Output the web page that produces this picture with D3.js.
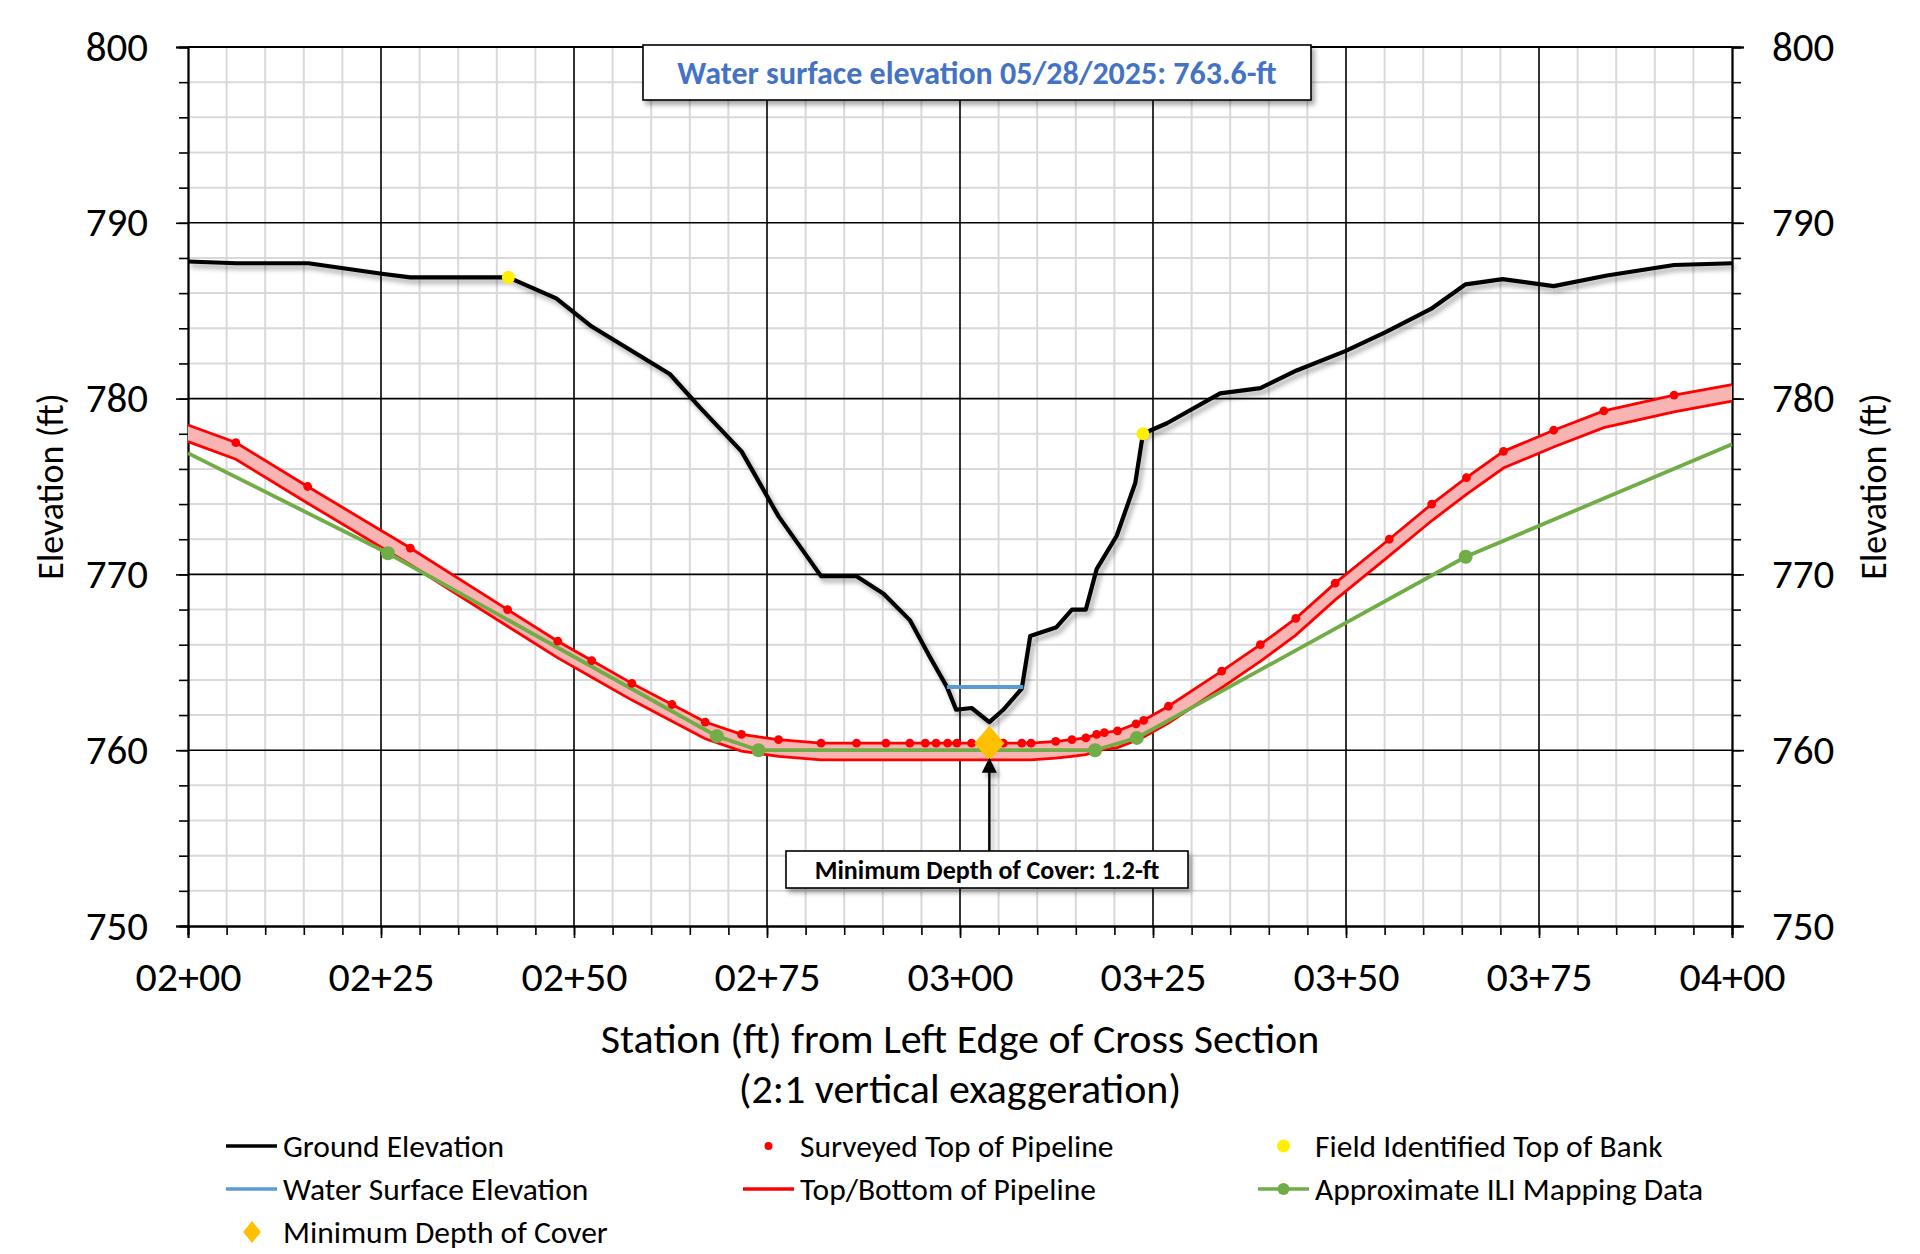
<!doctype html>
<html lang="en">
<head>
<meta charset="UTF-8">
<title>Pipeline Cross Section</title>
<script src="https://d3js.org/d3.v7.min.js"></script>
<style>
    body { margin: 0; background: #fff; }
    svg { display: block; font-family: Carlito, Lato, "Open Sans", sans-serif; }
</style>
</head>
<body>
<div id="chart"></div>
<script>

    //ground survey (station ft, elevation ft)
    const groundStation = [200, 206.3, 215.6, 225.1, 228.8, 241.5, 247.7, 252.3, 262.4, 266.3, 271.7, 276.5,
        282.0, 286.6, 290.1, 293.5, 296.1, 298.3, 299.5, 301.5, 303.8, 305.6, 308.0, 309.1, 312.5, 314.5,
        316.3, 317.7, 320.3, 322.7, 323.7, 326.8, 333.7, 338.9, 343.6, 349.9, 355.2, 361.0, 365.5, 370.3,
        376.9, 383.8, 392.5, 400];
    const groundElev = [787.8, 787.7, 787.7, 787.1, 786.9, 786.9, 785.7, 784.1, 781.4, 779.5, 777.0, 773.3,
        769.9, 769.9, 768.9, 767.4, 765.3, 763.6, 762.3, 762.4, 761.6, 762.3, 763.5, 766.5, 767.0, 768.0,
        768.0, 770.3, 772.2, 775.2, 778.0, 778.6, 780.3, 780.6, 781.6, 782.7, 783.8, 785.1, 786.5, 786.8,
        786.4, 787.0, 787.6, 787.7];

    //water surface 05/28/2025
    const waterStation = [298.3, 308.2];
    const waterElev = [763.6, 763.6];

    //surveyed top of pipe points
    const surveyStation = [206.2, 215.5, 228.8, 241.4, 247.9, 252.3, 257.5, 262.7, 267.0, 271.7, 276.5,
        282.0, 286.6, 290.4, 293.5, 295.5, 296.9, 298.4, 299.6, 301.5, 303.8, 305.6, 308.0, 309.2, 312.4,
        314.5, 316.3, 317.7, 318.7, 320.4, 322.8, 323.8, 327.0, 333.9, 338.9, 343.5, 348.6, 355.6, 361.1,
        365.6, 370.4, 376.9, 383.4, 392.5];
    const surveyTop = [777.5, 775.0, 771.5, 768.0, 766.2, 765.1, 763.8, 762.6, 761.6, 760.9, 760.6,
        760.4, 760.4, 760.4, 760.4, 760.4, 760.4, 760.4, 760.4, 760.4, 760.4, 760.4, 760.4, 760.4, 760.5,
        760.6, 760.7, 760.9, 761.0, 761.1, 761.5, 761.7, 762.5, 764.5, 766.0, 767.5, 769.5, 772.0, 774.0,
        775.5, 777.0, 778.2, 779.3, 780.2];

    //pipe line ends at the section edges
    const pipeEndStation = [200, 400];
    const pipeEndTop = [778.5, 780.8];
    const pipeDiameter = 0.95;

    //field identified top of bank
    const bankStation = [241.5, 323.7];
    const bankElev = [786.9, 778.0];

    //approximate ILI mapping
    const iliStation = [200, 225.9, 268.5, 273.9, 317.5, 322.9, 365.5, 400];
    const iliElev = [776.9, 771.2, 760.8, 760.0, 760.0, 760.7, 771.0, 777.4];

    //minimum depth of cover
    const minCoverStation = [303.8];
    const minCoverElev = [760.4];

    const xDomain = [200, 400];
    const yDomain = [750, 800];

    const W = 1920, H = 1254;
    const plot = {left: 188, right: 1732, top: 47, bottom: 926};

    let svg = d3.select("#chart").append("svg")
        .attr("width", W)
        .attr("height", H);

    //drop shadow, in user space so straight lines keep it too
    let defs = svg.append("defs");
    let shadow = defs.append("filter").attr("id", "shadow")
        .attr("filterUnits", "userSpaceOnUse")
        .attr("x", 0).attr("y", 0).attr("width", W).attr("height", H);
    shadow.append("feDropShadow")
        .attr("dx", 3).attr("dy", 4).attr("stdDeviation", 2.5)
        .attr("flood-color", "#000").attr("flood-opacity", 0.35);

    defs.append("marker").attr("id", "arrow")
        .attr("viewBox", "0 0 10 10")
        .attr("refX", 9).attr("refY", 5)
        .attr("markerWidth", 15).attr("markerHeight", 15)
        .attr("markerUnits", "userSpaceOnUse")
        .attr("orient", "auto")
        .append("path").attr("d", "M0,0 L10,5 L0,10 z").attr("fill", "#000");

    let x = d3.scaleLinear().domain(xDomain).range([plot.left, plot.right]);
    let y = d3.scaleLinear().domain(yDomain).range([plot.bottom, plot.top]);

    let fmtStation = function (s) {
        let hund = Math.floor(s / 100), rest = Math.round(s % 100);
        return String(hund).padStart(2, "0") + "+" + String(rest).padStart(2, "0");
    };

    //grid
    let grid = svg.append("g").attr("class", "grid");
    grid.selectAll(".vminor").data(d3.range(205, 400, 5).filter(d => d % 25 !== 0))
        .enter().append("line")
        .attr("x1", d => x(d)).attr("x2", d => x(d))
        .attr("y1", plot.top).attr("y2", plot.bottom)
        .attr("stroke", "#d9d9d9").attr("stroke-width", 2);
    grid.selectAll(".hminor").data(d3.range(752, 800, 2).filter(d => d % 10 !== 0))
        .enter().append("line")
        .attr("x1", plot.left).attr("x2", plot.right)
        .attr("y1", d => y(d)).attr("y2", d => y(d))
        .attr("stroke", "#d9d9d9").attr("stroke-width", 2);
    grid.selectAll(".vmajor").data(d3.range(225, 400, 25))
        .enter().append("line")
        .attr("x1", d => x(d)).attr("x2", d => x(d))
        .attr("y1", plot.top).attr("y2", plot.bottom)
        .attr("stroke", "#000").attr("stroke-width", 1.6);
    grid.selectAll(".hmajor").data(d3.range(760, 801, 10))
        .enter().append("line")
        .attr("x1", plot.left).attr("x2", plot.right)
        .attr("y1", d => y(d)).attr("y2", d => y(d))
        .attr("stroke", "#000").attr("stroke-width", 1.6);

    //axes
    let bottomMinor = d3.axisBottom(x).tickValues(d3.range(200, 401, 5)).tickSize(9).tickFormat("");
    let bottomMajor = d3.axisBottom(x).tickValues(d3.range(200, 401, 25)).tickSize(12).tickPadding(23).tickFormat(fmtStation);
    let leftMinor = d3.axisLeft(y).tickValues(d3.range(750, 801, 2)).tickSize(9).tickFormat("");
    let leftMajor = d3.axisLeft(y).tickValues(d3.range(750, 801, 10)).tickSize(12).tickPadding(28).tickFormat(d3.format("d"));
    let rightMinor = d3.axisRight(y).tickValues(d3.range(750, 801, 2)).tickSize(9).tickFormat("");
    let rightMajor = d3.axisRight(y).tickValues(d3.range(750, 801, 10)).tickSize(12).tickPadding(28).tickFormat(d3.format("d"));

    let axes = svg.append("g").attr("class", "axes");
    let styleAxis = function (size) {
        return function (g) {
            g.select(".domain").attr("stroke", "#000").attr("stroke-width", 1.8);
            g.selectAll(".tick line").attr("stroke", "#000").attr("stroke-width", 1.6);
            g.selectAll(".tick text").attr("fill", "#000").style("font-size", size + "px");
        };
    };
    axes.append("g").attr("transform", "translate(0," + plot.bottom + ")").call(bottomMinor).call(styleAxis(42));
    axes.append("g").attr("transform", "translate(0," + plot.bottom + ")").call(bottomMajor).call(styleAxis(42));
    axes.append("g").attr("transform", "translate(" + plot.left + ",0)").call(leftMinor).call(styleAxis(41));
    axes.append("g").attr("transform", "translate(" + plot.left + ",0)").call(leftMajor).call(styleAxis(41));
    axes.append("g").attr("transform", "translate(" + plot.right + ",0)").call(rightMinor).call(styleAxis(41));
    axes.append("g").attr("transform", "translate(" + plot.right + ",0)").call(rightMajor).call(styleAxis(41));
    axes.selectAll("text").attr("font-family", "Carlito, Lato, sans-serif");
    //top border
    axes.append("line")
        .attr("x1", plot.left).attr("x2", plot.right)
        .attr("y1", plot.top).attr("y2", plot.top)
        .attr("stroke", "#000").attr("stroke-width", 1.8);

    //axis titles
    svg.append("text")
        .attr("x", (plot.left + plot.right) / 2).attr("y", 1053)
        .attr("text-anchor", "middle").style("font-size", "42px")
        .text("Station (ft) from Left Edge of Cross Section");
    svg.append("text")
        .attr("x", (plot.left + plot.right) / 2).attr("y", 1103)
        .attr("text-anchor", "middle").style("font-size", "42px")
        .text("(2:1 vertical exaggeration)");
    svg.append("text")
        .attr("transform", "translate(63," + (plot.top + plot.bottom) / 2 + ") rotate(-90)")
        .attr("text-anchor", "middle").style("font-size", "36px")
        .text("Elevation (ft)");
    svg.append("text")
        .attr("transform", "translate(1886," + (plot.top + plot.bottom) / 2 + ") rotate(-90)")
        .attr("text-anchor", "middle").style("font-size", "36px")
        .text("Elevation (ft)");

    let lineOf = d3.line().x(d => x(d[0])).y(d => y(d[1]));
    let chart = svg.append("g").attr("class", "series");

    //pipeline band
    let pipeStation = [pipeEndStation[0]].concat(surveyStation, [pipeEndStation[1]]);
    let pipeTop = [pipeEndTop[0]].concat(surveyTop, [pipeEndTop[1]]);
    let pipe = pipeStation.map((s, i) => ({s: s, top: pipeTop[i], bot: pipeTop[i] - pipeDiameter}));

    chart.append("path")
        .attr("d", d3.area().x(d => x(d.s)).y0(d => y(d.bot)).y1(d => y(d.top))(pipe))
        .attr("fill", "#f8b3b3");
    chart.append("path")
        .attr("d", lineOf(pipe.map(d => [d.s, d.top])))
        .attr("fill", "none").attr("stroke", "#ff0000").attr("stroke-width", 2.8);
    chart.append("path")
        .attr("d", lineOf(pipe.map(d => [d.s, d.bot])))
        .attr("fill", "none").attr("stroke", "#ff0000").attr("stroke-width", 2.8);

    //ILI line
    let ili = iliStation.map((s, i) => [s, iliElev[i]]);
    chart.append("path")
        .attr("d", lineOf(ili))
        .attr("fill", "none").attr("stroke", "#70ad47").attr("stroke-width", 3.8);
    chart.selectAll(".ili").data(ili.slice(1, -1))
        .enter().append("circle")
        .attr("cx", d => x(d[0])).attr("cy", d => y(d[1]))
        .attr("r", 7).attr("fill", "#70ad47");

    //surveyed points
    chart.selectAll(".survey").data(surveyStation.map((s, i) => [s, surveyTop[i]]))
        .enter().append("circle")
        .attr("cx", d => x(d[0])).attr("cy", d => y(d[1]))
        .attr("r", 4.4).attr("fill", "#ff0000");

    //ground and water
    chart.append("path")
        .attr("d", lineOf(groundStation.map((s, i) => [s, groundElev[i]])))
        .attr("fill", "none").attr("stroke", "#000").attr("stroke-width", 4.2)
        .attr("stroke-linejoin", "round")
        .attr("filter", "url(#shadow)");
    chart.append("path")
        .attr("d", lineOf(waterStation.map((s, i) => [s, waterElev[i]])))
        .attr("fill", "none").attr("stroke", "#5b9bd5").attr("stroke-width", 4);

    //top of bank
    chart.selectAll(".bank").data(bankStation.map((s, i) => [s, bankElev[i]]))
        .enter().append("circle")
        .attr("cx", d => x(d[0])).attr("cy", d => y(d[1]))
        .attr("r", 6.5).attr("fill", "#ffef00");

    //min depth of cover diamond
    let diamond = d3.symbol().type(d3.symbolDiamond2).size(640);
    chart.selectAll(".mindoc").data(minCoverStation.map((s, i) => [s, minCoverElev[i]]))
        .enter().append("path")
        .attr("d", diamond)
        .attr("transform", d => "translate(" + x(d[0]) + "," + y(d[1]) + ") scale(0.95,1.1)")
        .attr("fill", "#ffc000");

    //annotations
    let note = svg.append("g").attr("class", "notes");
    note.append("line")
        .attr("x1", x(minCoverStation[0])).attr("x2", x(minCoverStation[0]))
        .attr("y1", 851).attr("y2", y(minCoverElev[0]) + 16)
        .attr("stroke", "#000").attr("stroke-width", 2.4)
        .attr("marker-end", "url(#arrow)")
        .attr("filter", "url(#shadow)");

    note.append("rect")
        .attr("x", 786).attr("y", 851).attr("width", 402).attr("height", 37)
        .attr("fill", "#fff").attr("stroke", "#000").attr("stroke-width", 1.6)
        .attr("filter", "url(#shadow)");
    note.append("text")
        .attr("x", 987).attr("y", 879).attr("text-anchor", "middle")
        .style("font-size", "26px").style("font-weight", "bold")
        .text("Minimum Depth of Cover: 1.2-ft");

    note.append("rect")
        .attr("x", 643).attr("y", 45).attr("width", 668).attr("height", 55)
        .attr("fill", "#fff").attr("stroke", "#000").attr("stroke-width", 1.6)
        .attr("filter", "url(#shadow)");
    note.append("text")
        .attr("x", 977).attr("y", 84).attr("text-anchor", "middle")
        .attr("fill", "#4472c4")
        .style("font-size", "32px").style("font-weight", "bold")
        .text("Water surface elevation 05/28/2025: " + waterElev[0] + "-ft");

    //legend
    const legendItems = [
        {label: "Ground Elevation", kind: "line", color: "#000", col: 0, row: 0},
        {label: "Water Surface Elevation", kind: "line", color: "#5b9bd5", col: 0, row: 1},
        {label: "Minimum Depth of Cover", kind: "diamond", color: "#ffc000", col: 0, row: 2},
        {label: "Surveyed Top of Pipeline", kind: "dot", color: "#ff0000", col: 1, row: 0},
        {label: "Top/Bottom of Pipeline", kind: "line", color: "#ff0000", col: 1, row: 1},
        {label: "Field Identified Top of Bank", kind: "dot", color: "#ffef00", col: 2, row: 0},
        {label: "Approximate ILI Mapping Data", kind: "linedot", color: "#70ad47", col: 2, row: 1}
    ];
    const legendCols = [226, 743, 1258];
    const legendRows = [1146, 1189, 1232];

    let legend = svg.append("g").attr("class", "legend");
    let item = legend.selectAll("g").data(legendItems).enter().append("g")
        .attr("transform", d => "translate(" + legendCols[d.col] + "," + legendRows[d.row] + ")");
    item.filter(d => d.kind === "line" || d.kind === "linedot").append("line")
        .attr("x1", 0).attr("x2", 51).attr("y1", 0).attr("y2", 0)
        .attr("stroke", d => d.color).attr("stroke-width", 3.6);
    item.filter(d => d.kind === "linedot").append("circle")
        .attr("cx", 25.5).attr("cy", 0).attr("r", 6).attr("fill", d => d.color);
    item.filter(d => d.kind === "dot").append("circle")
        .attr("cx", 25.5).attr("cy", 0)
        .attr("r", d => d.color === "#ff0000" ? 4 : 6.5).attr("fill", d => d.color);
    item.filter(d => d.kind === "diamond").append("path")
        .attr("d", d3.symbol().type(d3.symbolDiamond2).size(280))
        .attr("transform", "translate(26,0) scale(0.85,1.05)")
        .attr("fill", d => d.color);
    item.append("text")
        .attr("x", 57).attr("y", 11)
        .style("font-size", "31.5px").attr("fill", "#000")
        .text(d => d.label);

</script>
</body>
</html>
